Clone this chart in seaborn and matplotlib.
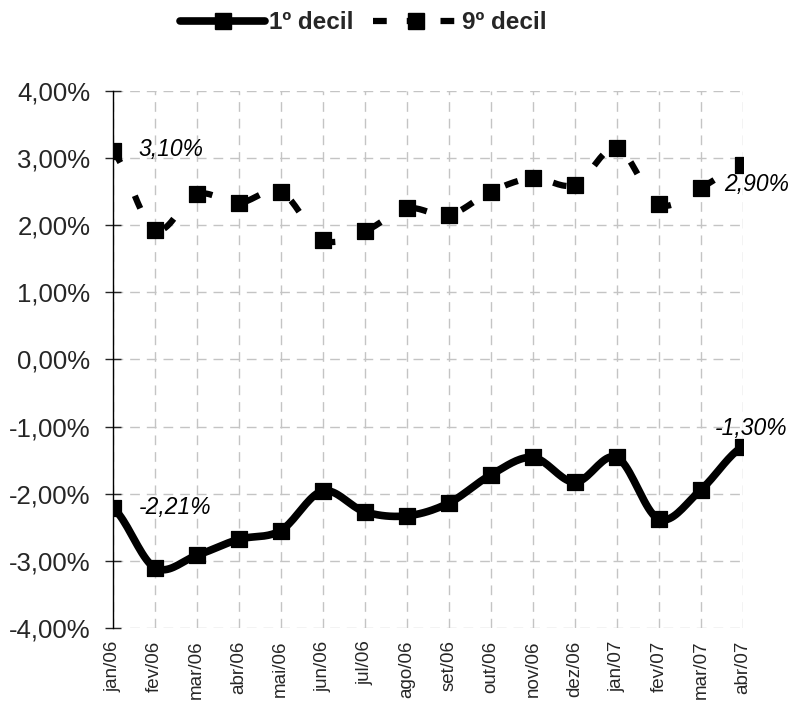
import numpy as np
import pandas as pd
import matplotlib
matplotlib.use("Agg")
import matplotlib.pyplot as plt
import seaborn as sns
from matplotlib.lines import Line2D
from matplotlib.ticker import FuncFormatter, MultipleLocator

months = ["jan/06", "fev/06", "mar/06", "abr/06", "mai/06", "jun/06", "jul/06", "ago/06",
          "set/06", "out/06", "nov/06", "dez/06", "jan/07", "fev/07", "mar/07", "abr/07"]
decil_1 = [-2.21, -3.10, -2.92, -2.68, -2.55, -1.96, -2.27, -2.33,
           -2.14, -1.72, -1.46, -1.83, -1.46, -2.38, -1.94, -1.30]
decil_9 = [3.10, 1.93, 2.46, 2.33, 2.50, 1.78, 1.91, 2.25,
           2.15, 2.50, 2.70, 2.60, 3.15, 2.31, 2.56, 2.90]


def smooth(y, n=20):
    # catmull-rom curve through the points, like excel's smoothed lines
    y = np.asarray(y, dtype=float)
    p = np.concatenate([[y[0]], y, [y[-1]]])
    xs, ys = [], []
    for i in range(len(y) - 1):
        t = np.linspace(0, 1, n, endpoint=False)
        p0, p1, p2, p3 = p[i], p[i + 1], p[i + 2], p[i + 3]
        v = 0.5 * ((2 * p1) + (-p0 + p2) * t + (2 * p0 - 5 * p1 + 4 * p2 - p3) * t ** 2
                   + (-p0 + 3 * p1 - 3 * p2 + p3) * t ** 3)
        xs.append(i + t)
        ys.append(v)
    xs.append([len(y) - 1])
    ys.append([y[-1]])
    return np.concatenate(xs), np.concatenate(ys)


sns.set_style("white")
plt.rcParams["font.family"] = ["Liberation Sans", "DejaVu Sans"]

fig = plt.figure(figsize=(7.9, 7.04), dpi=100)
ax = fig.add_axes([0.1425, 0.108, 0.798, 0.763])

x = np.arange(len(months))
sx, s1 = smooth(decil_1)
_, s9 = smooth(decil_9)
curves = pd.DataFrame({"x": sx, "d1": s1, "d9": s9})
points = pd.DataFrame({"x": x, "d1": decil_1, "d9": decil_9})

sns.lineplot(data=curves, x="x", y="d1", ax=ax, color="black", lw=5.5,
             solid_capstyle="round", zorder=3)
l9 = sns.lineplot(data=curves, x="x", y="d9", ax=ax, color="black", lw=4.5, zorder=3)
l9.lines[-1].set_dashes((2.2, 5.8))
sns.scatterplot(data=points, x="x", y="d1", ax=ax, marker="s", s=125, color="black",
                edgecolor="black", zorder=4)
sns.scatterplot(data=points, x="x", y="d9", ax=ax, marker="s", s=125, color="black",
                edgecolor="black", zorder=4)

pct = lambda v: f"{v:.2f}%".replace(".", ",")
lab = dict(fontsize=16.5, style="italic", color="black", ha="center", va="center")
ax.text(1.38, decil_9[0] + 0.02, pct(decil_9[0]), **lab)
ax.text(15.33, decil_9[-1] - 0.29, pct(decil_9[-1]), **lab)
ax.text(1.48, decil_1[0], pct(decil_1[0]), **lab)
ax.text(15.19, decil_1[-1] + 0.27, pct(decil_1[-1]), **lab)

ax.set_xlim(0, len(months) - 1)
ax.set_ylim(-4, 4)
ax.yaxis.set_major_locator(MultipleLocator(1))
ax.yaxis.set_major_formatter(FuncFormatter(lambda v, _: pct(v)))
ax.set_xticks(x)
ax.set_xticklabels(months, rotation=90, fontsize=13.5)
ax.tick_params(axis="y", labelsize=18.5, length=12, width=1, direction="inout",
               left=True, pad=10)
ax.tick_params(axis="x", length=0, pad=9)
ax.grid(True, color="#c4c4c4", linestyle=(0, (7, 5)), lw=1)
ax.set_axisbelow(True)
for s in ["top", "right", "bottom"]:
    ax.spines[s].set_visible(False)
ax.spines["left"].set_color("black")
ax.spines["left"].set_linewidth(1)
ax.set_xlabel("")
ax.set_ylabel("")

handles = [
    Line2D([], [], color="black", lw=5.5, marker="s", markersize=11),
    Line2D([], [], color="black", lw=4.5, marker="s", markersize=11, dashes=(2.2, 3.2)),
]
fig.legend(handles, ["1º decil", "9º decil"], loc="center", bbox_to_anchor=(0.46, 0.968),
           ncol=2, frameon=False, prop={"weight": "bold", "size": 17.5},
           handlelength=3.5, handletextpad=0.15, columnspacing=0.8)

plt.savefig("out.png", dpi=100)
plt.close()
